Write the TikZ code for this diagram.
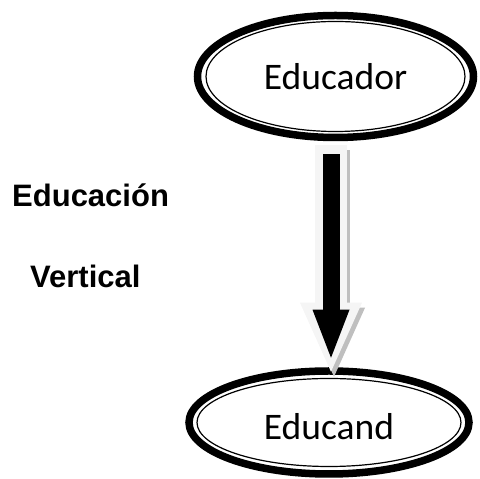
\documentclass[tikz,border=0pt]{standalone}
\usepackage{fontspec}
\setmainfont{Carlito}
\newfontfamily\sidefont{Liberation Sans}
\usetikzlibrary{shapes.geometric,arrows.meta}
\tikzset{
  elip/.style={ draw, ellipse, line width=7.5pt, inner sep=0pt, font=\fontsize{37.5}{40}\selectfont }
}
\tikzset{
  sidetxt/.style={ anchor=base west, inner sep=0pt, font=\sidefont\bfseries\fontsize{31}{36}\selectfont }
}
\tikzset{
  arrowshade/.style={ draw=gray!50, line width=32pt, -{Triangle[length=69pt, width=62pt, line width=0pt, fill=gray!50]} }
}
\tikzset{
  arrowrim/.style={ draw=gray!8, line width=32pt, -{Triangle[length=69pt, width=62pt, line width=0pt, fill=gray!8]} }
}
\tikzset{
  arrowcore/.style={ draw=black, line width=17pt, -{Triangle[length=48pt, width=37pt, line width=0pt, fill=black]} }
}

\begin{document}
\begin{tikzpicture}[x=1pt, y=1pt]
  \useasboundingbox (0,0) rectangle (480,479);

  \node[elip, minimum width=276pt, minimum height=122pt] (educador) at (335.5, 402.5) {Educador};
  \node[elip, minimum width=280pt, minimum height=103pt] (educand) at (329, 56.5) {\raisebox{0pt}[\dimexpr\height+9pt\relax]{Educand}};
  \draw[line width=1.2pt] (educador.center) ellipse [x radius=129.5pt, y radius=55pt];
  \draw[line width=1.2pt] (educand.center) ellipse [x radius=132pt, y radius=44pt];

  \node[sidetxt] (educacion) at (12, 272) {Educación};
  \node[sidetxt] (vertical) at (30, 191) {Vertical};

  % big arrow: shadow, rim, core
  \draw[arrowshade] ([xshift=-1.5pt, yshift=-9pt]educador.south) -- ([xshift=5pt, yshift=-9.5pt]educand.north);
  \draw[arrowrim] ([xshift=-4.5pt, yshift=-4pt]educador.south) -- ([xshift=2pt, yshift=-4.5pt]educand.north);
  \draw[arrowcore] ([xshift=-4.5pt, yshift=-13pt]educador.south) -- ([xshift=2pt, yshift=9.5pt]educand.north);
\end{tikzpicture}
\end{document}
